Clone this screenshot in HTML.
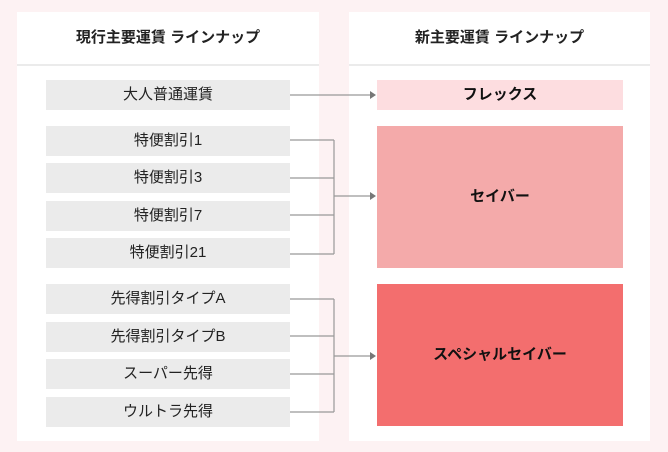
<!DOCTYPE html>
<html><head><meta charset="utf-8"><style>
body{margin:0;width:668px;height:452px;background:#fdf2f3;position:relative;font-family:"Liberation Sans","Noto Sans CJK JP",sans-serif;overflow:hidden}
.p{position:absolute;background:#fff;top:12px;height:429px}
.h{position:absolute;left:0;right:0;top:0;height:52px;border-bottom:2px solid #ebebeb;text-align:center;line-height:52px;font-size:15px;font-weight:bold;color:#222}
.g{position:absolute;left:46px;width:244px;height:30px;background:#ebebeb;text-align:center;line-height:30px;font-size:15px;color:#222}
.r{position:absolute;left:377px;width:246px;text-align:center;font-size:15px;font-weight:bold;color:#111}
</style></head><body>
<div class="p" style="left:17px;width:302px"><div class="h">現行主要運賃 ラインナップ</div></div>
<div class="p" style="left:349px;width:301px"><div class="h">新主要運賃 ラインナップ</div></div>
<div class="g" style="top:80px">大人普通運賃</div>
<div class="g" style="top:126px">特便割引1</div>
<div class="g" style="top:163px">特便割引3</div>
<div class="g" style="top:201px">特便割引7</div>
<div class="g" style="top:238px">特便割引21</div>
<div class="g" style="top:284px">先得割引タイプA</div>
<div class="g" style="top:322px">先得割引タイプB</div>
<div class="g" style="top:359px">スーパー先得</div>
<div class="g" style="top:397px">ウルトラ先得</div>
<div class="r" style="top:80px;height:30px;line-height:30px;background:#fddde0">フレックス</div>
<div class="r" style="top:126px;height:142px;line-height:142px;background:#f4aaaa">セイバー</div>
<div class="r" style="top:284px;height:142px;line-height:142px;background:#f36e6e">スペシャルセイバー</div>
<svg width="668" height="452" style="position:absolute;left:0;top:0" fill="none" stroke="#999" stroke-width="1.2">
<path d="M290 95H372"/>
<path d="M290 140H334M290 178H334M290 215H334M290 254H334M334 140V254M334 196H372"/>
<path d="M290 299H334M290 336H334M290 374H334M290 412H334M334 299V412M334 356H372"/>
<g fill="#777" stroke="none"><path d="M376 95l-6-4v8z"/><path d="M376 196l-6-4v8z"/><path d="M376 356l-6-4v8z"/></g>
</svg>
</body></html>
